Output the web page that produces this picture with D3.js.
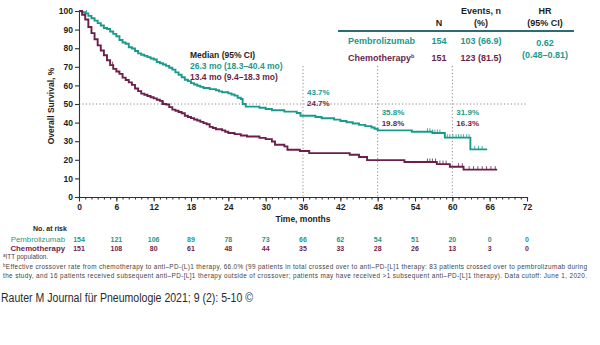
<!DOCTYPE html>
<html>
<head>
<meta charset="utf-8">
<script src="https://cdn.jsdelivr.net/npm/d3@7"></script>
<style>
  html, body { margin: 0; padding: 0; background: #fff; }
  svg { display: block; font-family: "Liberation Sans", Arial, sans-serif; }
</style>
</head>
<body>
<div id="chart"></div>
<script>
// Kaplan-Meier overall survival, [month, % alive]
const pembroCurve = [
  [0,100],[0.5,99.3],[1,98.7],[1.5,97.4],[2,96.1],[2.5,94.8],[3,93.5],[3.5,92.2],[4,90.9],[4.5,90.3],
  [5,89],[5.5,87.7],[6,86.4],[6.5,84.4],[7,83.1],[7.5,82.4],[8,80.5],[8.5,79.8],[9,78.5],[9.5,77.2],
  [10,76.5],[10.5,75.9],[11,75.2],[11.5,74.5],[12,73.9],[12.5,72.6],[13,71.9],[13.5,71.2],[14,70.5],
  [14.5,69.5],[15,68.5],[15.5,67],[16,65.7],[16.5,64.4],[17,63],[17.5,62.3],[18,61.2],[18.5,60.5],
  [19,59.8],[19.5,59.2],[20,58.6],[21,58],[22,57.4],[22.5,56.8],[23,56.3],[24,55.7],[24.5,55.1],
  [25,54.5],[25.5,53.4],[26,52.7],[26.3,50],[26.8,48.6],[29,48],[30,47.3],[31,46.6],[33,45.9],
  [35,45.2],[35.6,43.7],[38,43],[39,42.3],[41,41.6],[42,40.9],[43,40.2],[44,39.5],[45,38.8],
  [46,38.1],[47,37.4],[47.5,36.7],[48,35.8],[53.5,35.1],[56.8,34.4],[58.8,31.9],[62.9,25.6],[65.6,25.6]
];
const chemoCurve = [
  [0,100],[0.5,98],[1,95.4],[1.5,91.4],[2,88.1],[2.5,84.8],[3,81.5],[3.5,78.8],[4,76.2],[4.5,73.5],
  [5,70.9],[5.5,68.9],[6,67.5],[6.5,66.2],[7,64.2],[7.5,62.9],[8,61.6],[8.5,60.3],[9,58.3],[9.5,56.9],
  [10,55.6],[10.5,55],[11,54.3],[11.5,53.6],[12,53],[12.5,52.3],[13,51.7],[13.4,50],[14,49.7],
  [14.5,48.3],[15,47],[15.5,46.4],[16,45.7],[16.5,45],[17,43.7],[17.5,43],[18,42.4],[18.5,41.7],
  [19,41.1],[19.5,40.4],[20,39.7],[20.5,39.1],[21,37.7],[21.5,37.1],[22,36.4],[23,35.8],[23.5,35.1],
  [24,34.4],[25,33.8],[26,33.1],[27,32.5],[29,31.8],[30,31.1],[31,29.8],[31.5,28.1],[33,27.2],
  [33.5,25.4],[35.5,24.7],[37,23.6],[43.5,22.7],[45,21.5],[46.3,19.8],[52.3,18.8],[57.5,17.7],
  [59.6,16.3],[61.8,14.7],[67.2,14.7]
];
// censoring marks, months
const pembroCensor = [1.2, 56, 56.4, 56.8, 57.2, 57.6, 58, 59.2, 59.6, 60.1, 60.6, 61, 61.4, 61.8, 62.3, 62.7, 63.6, 64.2, 64.8];
const chemoCensor = [5.4, 13.6, 56, 56.4, 56.8, 57.3, 58, 58.5, 59, 61, 61.6, 62.7, 63.4, 64.1, 64.8, 65.5, 66.2, 66.9];

const xTicks = [0, 6, 12, 18, 24, 30, 36, 42, 48, 54, 60, 66, 72];
const yTicks = [0, 10, 20, 30, 40, 50, 60, 70, 80, 90, 100];
const markTimes = [36, 48, 60];
const pembroAtMark = ["43.7%", "35.8%", "31.9%"];
const chemoAtMark = ["24.7%", "19.8%", "16.3%"];

const riskPembro = [154, 121, 106, 89, 78, 73, 66, 62, 54, 51, 20, 0, 0];
const riskChemo  = [151, 108, 80, 61, 48, 44, 35, 33, 28, 26, 13, 3, 0];

const groups = ["Pembrolizumab", "Chemotherapy"];
const groupN = [154, 151];
const groupEvents = ["103 (66.9)", "123 (81.5)"];
const hazard = ["0.62", "(0.48\u20130.81)"];
const medians = ["26.3 mo (18.3\u201340.4 mo)", "13.4 mo (9.4\u201318.3 mo)"];

const TEAL = "#1a9a8c";
const MAROON = "#6c1f4a";
const INK = "#1e1e1e";

const width = 600, height = 345;
const x = d3.scaleLinear([0, 72], [79, 527]);
const y = d3.scaleLinear([0, 100], [197, 11]);

const svg = d3.select("#chart").append("svg")
  .attr("width", width)
  .attr("height", height);

svg.append("rect").attr("width", width).attr("height", height).attr("fill", "#fff");

/* reference lines: 50% and landmark months */
svg.append("line")
  .attr("x1", x(0)).attr("x2", x(72))
  .attr("y1", y(50)).attr("y2", y(50))
  .attr("stroke", "#8a8a8a").attr("stroke-width", 1)
  .attr("stroke-dasharray", "1.2,2.2");

svg.append("g").selectAll("line")
  .data(markTimes)
  .join("line")
    .attr("x1", d => x(d)).attr("x2", d => x(d))
    .attr("y1", 66).attr("y2", y(0))
    .attr("stroke", "#8a8a8a").attr("stroke-width", 1)
    .attr("stroke-dasharray", "1.2,2.2");

/* axes */
svg.append("g")
  .attr("transform", `translate(${x(0)},0)`)
  .call(d3.axisLeft(y).tickValues(yTicks).tickSize(4).tickSizeOuter(0).tickPadding(2));

svg.append("g")
  .attr("transform", `translate(0,${y(0)})`)
  .call(d3.axisBottom(x).tickValues(d3.range(0, 73, 1)).tickSize(2.5).tickSizeOuter(0).tickFormat(""))
  .call(g => g.select(".domain").remove());

svg.append("g")
  .attr("transform", `translate(0,${y(0)})`)
  .call(d3.axisBottom(x).tickValues(xTicks).tickSize(4.5).tickSizeOuter(0).tickPadding(2));

svg.selectAll(".domain, .tick line")
  .attr("stroke", "#333").attr("stroke-width", 1.1);
svg.selectAll(".tick text")
  .attr("font-family", "Liberation Sans, Arial, sans-serif")
  .attr("font-size", 8.5)
  .attr("font-weight", "bold")
  .attr("fill", INK);

svg.append("text")
  .attr("transform", `translate(54,${(y(0) + y(100)) / 2 + 2}) rotate(-90)`)
  .attr("text-anchor", "middle")
  .attr("font-size", 8.5).attr("font-weight", "bold").attr("fill", INK)
  .text("Overall Survival, %");

svg.append("text")
  .attr("x", 303).attr("y", 222)
  .attr("text-anchor", "middle")
  .attr("font-size", 8.5).attr("font-weight", "bold").attr("fill", INK)
  .text("Time, months");

/* survival curves */
const line = d3.line()
  .x(d => x(d[0]))
  .y(d => y(d[1]))
  .curve(d3.curveStepAfter);

const stepAt = (curve, t) => {
  let v = curve[0][1];
  for (const p of curve) if (p[0] <= t) v = p[1];
  return v;
};

[[pembroCurve, pembroCensor, TEAL], [chemoCurve, chemoCensor, MAROON]].forEach(([curve, cens, col]) => {
  svg.append("path")
    .datum(curve)
    .attr("d", line)
    .attr("fill", "none")
    .attr("stroke", col)
    .attr("stroke-width", 1.9);

  svg.append("g").selectAll("line")
    .data(cens)
    .join("line")
      .attr("x1", d => x(d)).attr("x2", d => x(d))
      .attr("y1", d => y(stepAt(curve, d)))
      .attr("y2", d => y(stepAt(curve, d)) - 3.5)
      .attr("stroke", col).attr("stroke-width", 0.8);
});

/* landmark values */
const marks = svg.append("g")
  .attr("font-size", 8).attr("font-weight", "bold");
markTimes.forEach((t, i) => {
  const top = i === 0 ? 95 : 115;
  marks.append("text").attr("x", x(t) + 4).attr("y", top)
    .attr("fill", TEAL).text(pembroAtMark[i]);
  marks.append("text").attr("x", x(t) + 4).attr("y", top + 10.5)
    .attr("fill", MAROON).text(chemoAtMark[i]);
});

/* median box */
const med = svg.append("g").attr("font-size", 8.5).attr("font-weight", "bold");
med.append("text").attr("x", 190).attr("y", 58).attr("fill", INK).text("Median (95% CI)");
med.append("text").attr("x", 190).attr("y", 69).attr("fill", TEAL).text(medians[0]);
med.append("text").attr("x", 190).attr("y", 80).attr("fill", MAROON).text(medians[1]);

/* summary table */
const tbl = svg.append("g").attr("font-size", 9).attr("font-weight", "bold");
const colN = 439, colEv = 481, colHR = 545;
tbl.append("text").attr("x", colN).attr("y", 26).attr("text-anchor", "middle").attr("fill", INK).text("N");
tbl.append("text").attr("x", colEv).attr("y", 14).attr("text-anchor", "middle").attr("fill", INK).text("Events, n");
tbl.append("text").attr("x", colEv).attr("y", 26).attr("text-anchor", "middle").attr("fill", INK).text("(%)");
tbl.append("text").attr("x", colHR).attr("y", 14).attr("text-anchor", "middle").attr("fill", INK).text("HR");
tbl.append("text").attr("x", colHR).attr("y", 26).attr("text-anchor", "middle").attr("fill", INK).text("(95% CI)");
tbl.append("line")
  .attr("x1", 338).attr("x2", 574).attr("y1", 31).attr("y2", 31)
  .attr("stroke", "#2d6b73").attr("stroke-width", 2);

groups.forEach((g, i) => {
  const yy = 44 + i * 16.5;
  const col = i === 0 ? TEAL : MAROON;
  const name = tbl.append("text").attr("x", 348).attr("y", yy).attr("fill", col).text(g);
  if (i === 1) name.append("tspan").attr("font-size", 5.5).attr("dy", -3).text("b");
  tbl.append("text").attr("x", colN).attr("y", yy).attr("text-anchor", "middle").attr("fill", col).text(groupN[i]);
  tbl.append("text").attr("x", colEv).attr("y", yy).attr("text-anchor", "middle").attr("fill", col).text(groupEvents[i]);
});
tbl.append("text").attr("x", colHR).attr("y", 46).attr("text-anchor", "middle").attr("fill", TEAL).text(hazard[0]);
tbl.append("text").attr("x", colHR).attr("y", 58).attr("text-anchor", "middle").attr("fill", TEAL).text(hazard[1]);

/* number at risk */
const risk = svg.append("g").attr("font-size", 7);
risk.append("text").attr("x", 50).attr("y", 231).attr("text-anchor", "middle")
  .attr("font-weight", "bold").attr("fill", INK).text("No. at risk");
[[riskPembro, TEAL], [riskChemo, MAROON]].forEach(([vals, col], i) => {
  const yy = 241.5 + i * 9.5;
  risk.append("text").attr("x", 65).attr("y", yy).attr("text-anchor", "end")
    .attr("font-size", 7.8).attr("fill", col).attr("font-weight", i === 1 ? "bold" : "normal")
    .text(groups[i]);
  risk.append("g").selectAll("text")
    .data(vals)
    .join("text")
      .attr("x", (d, j) => x(xTicks[j]))
      .attr("y", yy)
      .attr("text-anchor", "middle")
      .attr("font-weight", "bold")
      .attr("fill", col)
      .text(d => d);
});

/* footnotes */
const notes = svg.append("g").attr("font-size", 6.4).attr("fill", "#444");
const fa = notes.append("text").attr("x", 3).attr("y", 259);
fa.append("tspan").attr("font-size", 4.5).attr("dy", -2).text("a");
fa.append("tspan").attr("dy", 2).text("ITT population.");
const fb = notes.append("text").attr("x", 3).attr("y", 268.5)
  .attr("textLength", 584).attr("lengthAdjust", "spacing");
fb.append("tspan").attr("font-size", 4.5).attr("dy", -2).text("b");
fb.append("tspan").attr("dy", 2)
  .text("Effective crossover rate from chemotherapy to anti\u2013PD-(L)1  therapy, 66.0% (99 patients in total crossed over to anti\u2013PD-[L]1  therapy: 83 patients crossed over to pembrolizumab  during");
notes.append("text").attr("x", 3).attr("y", 278)
  .attr("textLength", 584).attr("lengthAdjust", "spacing")
  .text("the study, and 16 patients received subsequent anti\u2013PD-[L]1  therapy outside of crossover; patients may have received >1 subsequent anti\u2013PD-[L]1  therapy). Data cutoff: June 1, 2020.");

/* source line */
svg.append("text")
  .attr("x", 1).attr("y", 302)
  .attr("font-size", 12.5).attr("fill", "#2a2a2a")
  .attr("textLength", 252).attr("lengthAdjust", "spacingAndGlyphs")
  .text("Rauter M Journal f\u00fcr Pneumologie 2021; 9 (2): 5-10 \u00a9");
</script>
</body>
</html>
